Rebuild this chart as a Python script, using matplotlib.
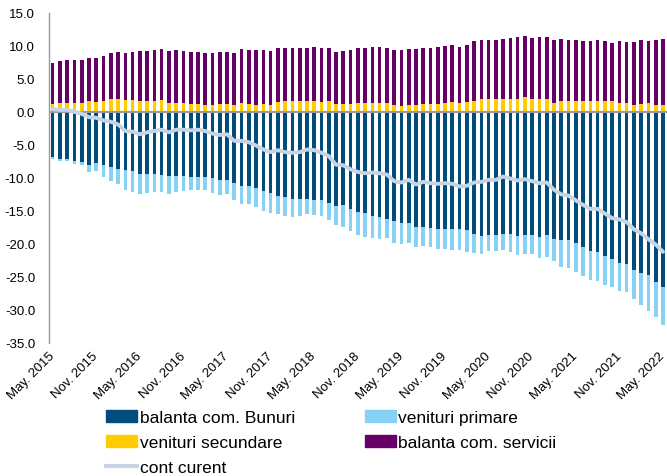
import numpy as np
import matplotlib
matplotlib.use("Agg")
import matplotlib.pyplot as plt
from matplotlib.patches import Patch
from matplotlib.lines import Line2D

plt.rcParams['font.family'] = ['Liberation Sans', 'DejaVu Sans']

# monthly data, May 2015 - May 2022 (bn EUR, rolling 12m)
goods = [-6.8, -7.1, -7.1, -7.5, -7.6, -8.0, -7.7, -8.1, -8.3, -8.6, -8.8, -9.0, -9.4, -9.4, -9.4,
         -9.6, -9.7, -9.7, -9.7, -9.8, -9.8, -9.9, -10.0, -10.3, -10.3, -10.8, -11.2, -11.3, -11.6,
         -12.0, -12.3, -12.7, -12.9, -13.2, -13.2, -13.2, -13.4, -13.4, -13.8, -14.2, -14.1, -14.7, -15.1,
         -15.3, -15.7, -16.0, -16.3, -16.6, -16.9, -16.9, -17.4, -17.4, -17.6, -17.7, -17.7, -17.8, -17.8,
         -17.9, -18.5, -18.8, -18.6, -18.7, -18.5, -18.5, -18.8, -18.6, -18.6, -18.9, -18.7, -19.2, -19.4,
         -19.4, -19.9, -20.4, -21.1, -21.3, -21.8, -22.3, -22.9, -23.1, -23.9, -24.4, -24.7, -25.7, -26.6]
primary = [-0.3, -0.3, -0.4, -0.4, -0.5, -1.1, -1.3, -1.7, -2.1, -2.3, -3.0, -3.1, -3.1, -2.9, -2.8,
           -2.6, -2.7, -2.4, -2.3, -2.1, -2.0, -1.9, -2.3, -2.3, -2.2, -2.5, -2.7, -2.6, -2.8,
           -3.0, -3.0, -2.8, -2.9, -2.7, -2.6, -2.2, -2.2, -2.3, -2.6, -2.9, -3.3, -3.4, -3.6,
           -3.7, -3.4, -3.3, -2.8, -3.2, -3.1, -2.9, -3.0, -2.9, -2.9, -3.0, -3.1, -3.2, -3.2,
           -3.4, -2.9, -2.7, -2.5, -2.4, -2.4, -2.7, -2.9, -3.0, -3.0, -3.2, -3.3, -3.4, -4.1,
           -4.3, -4.4, -4.5, -4.3, -4.3, -4.4, -4.3, -4.2, -4.2, -4.5, -4.9, -5.4, -5.3, -5.7]
secondary = [1.2, 1.4, 1.4, 1.4, 1.3, 1.6, 1.5, 1.7, 1.9, 1.9, 1.8, 1.8, 1.7, 1.7, 1.7,
             1.8, 1.3, 1.4, 1.4, 1.2, 1.2, 1.0, 1.0, 1.2, 1.2, 1.0, 1.3, 1.2,
             1.1, 1.2, 1.1, 1.5, 1.6, 1.6, 1.6, 1.6, 1.7, 1.5, 1.6, 1.2, 1.2, 1.2, 1.3, 1.3,
             1.4, 1.4, 1.4, 1.1, 0.9, 1.0, 1.1, 1.2, 1.2, 1.2, 1.4, 1.5, 1.3,
             1.5, 1.6, 1.9, 1.9, 1.9, 1.9, 2.0, 2.0, 2.2, 1.9, 1.9, 1.9, 1.4, 1.7,
             1.7, 1.7, 1.6, 1.6, 1.6, 1.7, 1.7, 1.3, 1.4, 1.1, 1.2, 1.3, 1.0, 1.1]
services = [6.2, 6.3, 6.4, 6.5, 6.6, 6.6, 6.7, 6.8, 7.0, 7.1, 7.1, 7.3, 7.5, 7.5, 7.6,
            7.7, 7.9, 7.9, 7.8, 7.9, 7.9, 7.9, 7.9, 7.9, 7.9, 7.9, 8.2, 8.1,
            8.2, 8.2, 8.1, 8.2, 8.1, 8.1, 8.1, 8.1, 8.1, 8.1, 8.1, 7.9, 8.0, 8.1, 8.3, 8.4,
            8.5, 8.5, 8.2, 8.3, 8.4, 8.5, 8.4, 8.5, 8.5, 8.6, 8.6, 8.7, 8.5,
            8.6, 9.1, 9.0, 9.0, 9.0, 9.2, 9.2, 9.3, 9.3, 9.3, 9.4, 9.5, 9.5, 9.3,
            9.2, 9.2, 9.2, 9.2, 9.3, 9.1, 8.8, 9.5, 9.2, 9.5, 9.7, 9.5, 9.9, 10.0]
current = [0.4, 0.3, 0.3, 0.0, -0.3, -0.8, -0.9, -1.3, -1.5, -1.9, -2.9, -3.0, -3.4, -3.1, -2.9,
           -2.7, -3.1, -2.7, -2.7, -2.8, -2.7, -2.9, -3.3, -3.5, -3.4, -4.4, -4.4, -4.6, -5.1,
           -5.7, -6.1, -5.8, -6.1, -6.2, -6.1, -5.7, -5.8, -6.2, -6.7, -8.0, -8.1, -8.7, -9.1,
           -9.3, -9.2, -9.3, -9.5, -10.5, -10.7, -10.3, -11.0, -10.6, -10.8, -10.9, -10.8, -10.9, -11.3,
           -11.2, -10.7, -10.6, -10.3, -10.3, -9.8, -10.1, -10.4, -10.2, -10.5, -10.8, -10.7, -11.8, -12.5,
           -12.7, -13.4, -14.1, -14.7, -14.7, -15.4, -16.1, -16.3, -16.7, -17.8, -18.4, -19.3, -20.1, -21.2]

tick_labels = ['May. 2015', 'Nov. 2015', 'May. 2016', 'Nov. 2016', 'May. 2017', 'Nov. 2017',
               'May. 2018', 'Nov. 2018', 'May. 2019', 'Nov. 2019', 'May. 2020', 'Nov. 2020',
               'May. 2021', 'Nov. 2021', 'May. 2022']

c_goods = '#004c7a'
c_prim = '#87d1f5'
c_sec = '#ffcc00'
c_serv = '#660066'
c_line = '#c8d4e4'

x = np.arange(len(goods))
w = 0.5

fig = plt.figure(figsize=(6.67, 4.77), dpi=100)
ax = fig.add_axes([0.0735, 0.279, 0.9265, 0.692])

ax.bar(x, goods, w, color=c_goods, zorder=2)
ax.bar(x, primary, w, bottom=goods, color=c_prim, zorder=2)
ax.bar(x, secondary, w, color=c_sec, zorder=2)
ax.bar(x, services, w, bottom=secondary, color=c_serv, zorder=2)
ax.axhline(0, color='#999999', lw=1.5, zorder=3)
ax.plot(x, current, color=c_line, lw=2.8, zorder=4, solid_capstyle='round')

ax.set_xlim(-0.5, len(goods) - 0.45)
ax.set_ylim(-35, 15)
ax.set_yticks(np.arange(-35, 16, 5))
ax.set_yticklabels([f'{v:.1f}' for v in np.arange(-35, 16, 5)], fontsize=9.5)
ax.tick_params(axis='y', length=0, pad=10)

ax.set_xticks(x[::6])
ax.set_xticklabels(tick_labels, rotation=45, ha='right', va='center',
                   rotation_mode='anchor', fontsize=9.5)
ax.tick_params(axis='x', length=0, pad=8)

for s in ['top', 'right', 'bottom']:
    ax.spines[s].set_visible(False)
ax.spines['left'].set_color('#999999')
ax.spines['left'].set_linewidth(1.0)

# legend, filled row by row
h_goods = Patch(color=c_goods, label='balanta com. Bunuri')
h_prim = Patch(color=c_prim, label='venituri primare')
h_sec = Patch(color=c_sec, label='venituri secundare')
h_serv = Patch(color=c_serv, label='balanta com. servicii')
h_cur = Line2D([], [], color=c_line, lw=3, label='cont curent')
fig.legend(handles=[h_goods, h_sec, h_cur, h_prim, h_serv], ncol=2,
           loc='upper left', bbox_to_anchor=(106 / 667, 1 - 411 / 477),
           frameon=False, fontsize=12.5, handlelength=1.8, handleheight=0.7,
           handletextpad=0.15, columnspacing=4.0, labelspacing=0.56,
           borderpad=0, borderaxespad=0)

fig.savefig('out.png', dpi=100)
